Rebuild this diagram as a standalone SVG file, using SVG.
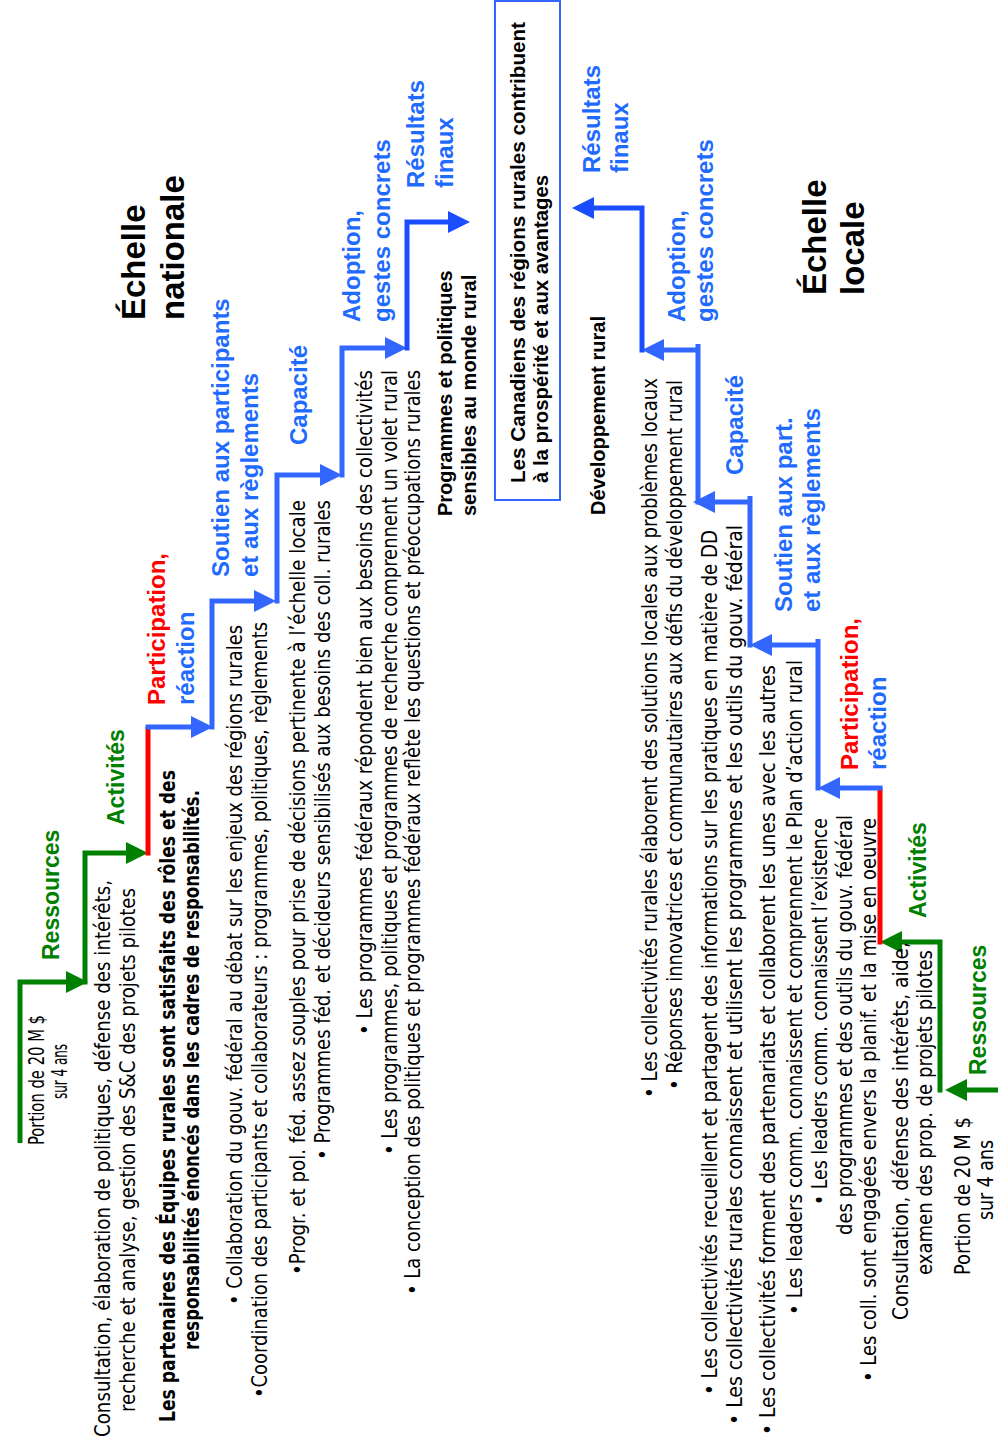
<svg xmlns="http://www.w3.org/2000/svg" width="998" height="1446" viewBox="0 0 998 1446">
<style>
.bd{font-family:"Liberation Sans Narrow","Arial Narrow","DejaVu Sans Condensed",sans-serif;font-size:21px;fill:#000}
.bb{font-family:"Liberation Sans Narrow","Arial Narrow","DejaVu Sans Condensed",sans-serif;font-size:21px;font-weight:bold;fill:#000}
.lb{font-family:"Liberation Sans",Arial,sans-serif;font-weight:bold;font-size:24px}
.gl{font-family:"Liberation Sans",Arial,sans-serif;font-weight:bold;font-size:23px;fill:#008000}
.bl{fill:#1f6bff}
.rd{fill:#ff0000}
.tt{font-family:"Liberation Sans",Arial,sans-serif;font-weight:bold;font-size:33px;fill:#000}
.bk{font-family:"Liberation Sans",Arial,sans-serif;font-weight:bold;font-size:20px;fill:#000}
.c{fill:none;stroke-width:5}
.cg{stroke:#008000}
.cb{stroke:#3366ff}
.cd{stroke:#1a4dff}
.cr{stroke:#ff0000}
.box{fill:#fff;stroke:#3366ff;stroke-width:2}
</style>
<defs>
<marker id="ag" viewBox="0 0 22 22" refX="12" refY="11" markerWidth="22" markerHeight="22" markerUnits="userSpaceOnUse" orient="auto"><path d="M0,0 L22,11 L0,22 z" fill="#008000"/></marker>
<marker id="ab" viewBox="0 0 22 22" refX="12" refY="11" markerWidth="22" markerHeight="22" markerUnits="userSpaceOnUse" orient="auto"><path d="M0,0 L22,11 L0,22 z" fill="#3366ff"/></marker>
<marker id="ad" viewBox="0 0 22 22" refX="12" refY="11" markerWidth="22" markerHeight="22" markerUnits="userSpaceOnUse" orient="auto"><path d="M0,0 L22,11 L0,22 z" fill="#1a4dff"/></marker>
</defs>

<g id="connectors">
<path class="c cg" d="M20,1143 V982 H78" marker-end="url(#ag)"/>
<path class="c cg" d="M85,984.5 V853 H138" marker-end="url(#ag)"/>
<path class="c cr" d="M148,855.5 V727"/>
<path class="c cb" d="M145.5,727 H203" marker-end="url(#ab)"/>
<path class="c cb" d="M212,729.5 V601 H266" marker-end="url(#ab)"/>
<path class="c cb" d="M277,603.5 V475 H332" marker-end="url(#ab)"/>
<path class="c cb" d="M342,477.5 V348 H397" marker-end="url(#ab)"/>
<path class="c cd" d="M407,350.5 V222 H460" marker-end="url(#ad)"/>

<path class="c cg" d="M998,1090 H955" marker-end="url(#ag)"/>
<path class="c cg" d="M940,1092.5 V942 H890" marker-end="url(#ag)"/>
<path class="c cr" d="M880,944.5 V788"/>
<path class="c cb" d="M882.5,788 H828" marker-end="url(#ab)"/>
<path class="c cb" d="M818,790.5 V639"/>
<path class="c cb" d="M818,645 H760" marker-end="url(#ab)"/>
<path class="c cb" d="M750,647.5 V496"/>
<path class="c cb" d="M750,502 H703" marker-end="url(#ab)"/>
<path class="c cb" d="M698,504.5 V344"/>
<path class="c cb" d="M698,350 H652" marker-end="url(#ab)"/>
<path class="c cd" d="M642,352.5 V208 H582" marker-end="url(#ad)"/>
</g>

<g id="box">
<rect class="box" x="495" y="1" width="65" height="499"/>
<text class="bk" transform="translate(525,483) rotate(-90)" textLength="461" lengthAdjust="spacingAndGlyphs">Les Canadiens des régions rurales contribuent</text>
<text class="bk" transform="translate(548,483) rotate(-90)" textLength="308" lengthAdjust="spacingAndGlyphs">à la prospérité et aux avantages</text>
</g>

<g id="national-title">
<text class="tt" transform="translate(145,320) rotate(-90)">Échelle</text>
<text class="tt" transform="translate(184,320) rotate(-90)">nationale</text>
</g>

<g id="nat-ressources">
<text class="bd" transform="translate(44,1145) rotate(-90)" textLength="130" lengthAdjust="spacingAndGlyphs">Portion de 20 M $</text>
<text class="bd" transform="translate(67,1099) rotate(-90)" textLength="55" lengthAdjust="spacingAndGlyphs">sur 4 ans</text>
<text class="gl" transform="translate(59,960) rotate(-90)">Ressources</text>
</g>

<g id="nat-activites">
<text class="bd" transform="translate(110,1437) rotate(-90)" textLength="557" lengthAdjust="spacingAndGlyphs">Consultation, élaboration de politiques, défense des intérêts,</text>
<text class="bd" transform="translate(135,1412) rotate(-90)" textLength="524" lengthAdjust="spacingAndGlyphs">recherche et analyse, gestion des S&amp;C des projets pilotes</text>
<text class="gl" transform="translate(124,825) rotate(-90)">Activités</text>
</g>

<g id="nat-participation">
<text class="bb" transform="translate(175,1422) rotate(-90)" textLength="652" lengthAdjust="spacingAndGlyphs">Les partenaires des Équipes rurales  sont satisfaits des rôles et des</text>
<text class="bb" transform="translate(199,1350) rotate(-90)" textLength="560" lengthAdjust="spacingAndGlyphs">responsabilités énoncés dans les cadres de responsabilités.</text>
<text class="lb rd" transform="translate(165,705) rotate(-90)">Participation,</text>
<text class="lb bl" transform="translate(194,705) rotate(-90)">réaction</text>
</g>

<g id="nat-soutien">
<text class="bd" transform="translate(242,1305) rotate(-90)" textLength="680" lengthAdjust="spacingAndGlyphs">• Collaboration du gouv. fédéral au débat sur les enjeux des régions rurales</text>
<text class="bd" transform="translate(267,1398) rotate(-90)" textLength="776" lengthAdjust="spacingAndGlyphs">•Coordination des participants et collaborateurs : programmes, politiques, règlements</text>
<text class="lb bl" transform="translate(229,577) rotate(-90)">Soutien aux participants</text>
<text class="lb bl" transform="translate(258,577) rotate(-90)">et aux règlements</text>
</g>

<g id="nat-capacite">
<text class="bd" transform="translate(305,1275) rotate(-90)" textLength="775" lengthAdjust="spacingAndGlyphs">•Progr. et pol. féd. assez souples pour prise de décisions pertinente à l’échelle locale</text>
<text class="bd" transform="translate(330,1160) rotate(-90)" textLength="660" lengthAdjust="spacingAndGlyphs">• Programmes féd. et décideurs sensibilisés aux besoins des coll. rurales</text>
<text class="lb bl" transform="translate(307,445) rotate(-90)">Capacité</text>
</g>

<g id="nat-adoption">
<text class="bd" transform="translate(372,1035) rotate(-90)" textLength="665" lengthAdjust="spacingAndGlyphs">• Les programmes fédéraux répondent bien aux besoins des collectivités</text>
<text class="bd" transform="translate(397,1155) rotate(-90)" textLength="785" lengthAdjust="spacingAndGlyphs">• Les programmes, politiques et programmes de recherche comprennent un volet rural</text>
<text class="bd" transform="translate(420,1295) rotate(-90)" textLength="925" lengthAdjust="spacingAndGlyphs">• La conception des politiques et programmes fédéraux reflète les questions et préoccupations rurales</text>
<text class="lb bl" transform="translate(360,322) rotate(-90)">Adoption,</text>
<text class="lb bl" transform="translate(390,322) rotate(-90)">gestes concrets</text>
</g>

<g id="nat-resultats">
<text class="bk" transform="translate(452,516) rotate(-90)">Programmes et politiques</text>
<text class="bk" transform="translate(476,516) rotate(-90)">sensibles au monde rural</text>
<text class="lb bl" transform="translate(424,188) rotate(-90)">Résultats</text>
<text class="lb bl" transform="translate(453,188) rotate(-90)">finaux</text>
</g>

<g id="local-title">
<text class="tt" transform="translate(826,295) rotate(-90)">Échelle</text>
<text class="tt" transform="translate(864,295) rotate(-90)">locale</text>
</g>

<g id="loc-resultats">
<text class="bk" transform="translate(605,515) rotate(-90)">Développement rural</text>
<text class="lb bl" transform="translate(600,173) rotate(-90)">Résultats</text>
<text class="lb bl" transform="translate(628,173) rotate(-90)">finaux</text>
</g>

<g id="loc-adoption">
<text class="bd" transform="translate(657,1098) rotate(-90)" textLength="720" lengthAdjust="spacingAndGlyphs">• Les collectivités rurales élaborent des solutions locales aux problèmes locaux</text>
<text class="bd" transform="translate(682,1090) rotate(-90)" textLength="710" lengthAdjust="spacingAndGlyphs">• Réponses innovatrices et communautaires aux défis du développement rural</text>
<text class="lb bl" transform="translate(685,322) rotate(-90)">Adoption,</text>
<text class="lb bl" transform="translate(713,322) rotate(-90)">gestes concrets</text>
</g>

<g id="loc-capacite">
<text class="bd" transform="translate(717,1395) rotate(-90)" textLength="865" lengthAdjust="spacingAndGlyphs">• Les collectivités recueillent et partagent des informations sur les pratiques en matière de DD</text>
<text class="bd" transform="translate(742,1425) rotate(-90)" textLength="900" lengthAdjust="spacingAndGlyphs">• Les collectivités rurales connaissent et utilisent les programmes et les outils du gouv. fédéral</text>
<text class="lb bl" transform="translate(743,475) rotate(-90)">Capacité</text>
</g>

<g id="loc-soutien">
<text class="bd" transform="translate(775,1435) rotate(-90)" textLength="770" lengthAdjust="spacingAndGlyphs">• Les collectivités forment des partenariats et collaborent les unes avec les autres</text>
<text class="bd" transform="translate(802,1315) rotate(-90)" textLength="655" lengthAdjust="spacingAndGlyphs">• Les leaders comm. connaissent et comprennent le Plan d’action rural</text>
<text class="lb bl" transform="translate(792,612) rotate(-90)">Soutien aux part.</text>
<text class="lb bl" transform="translate(820,612) rotate(-90)">et aux règlements</text>
</g>

<g id="loc-participation">
<text class="bd" transform="translate(827,1205) rotate(-90)" textLength="387" lengthAdjust="spacingAndGlyphs">• Les leaders comm. connaissent l’existence</text>
<text class="bd" transform="translate(852,1235) rotate(-90)" textLength="420" lengthAdjust="spacingAndGlyphs">des programmes et des outils du gouv. fédéral</text>
<text class="bd" transform="translate(876,1382) rotate(-90)" textLength="564" lengthAdjust="spacingAndGlyphs">• Les coll. sont engagées envers la planif. et la mise en oeuvre</text>
<text class="lb rd" transform="translate(858,770) rotate(-90)">Participation,</text>
<text class="lb bl" transform="translate(886,770) rotate(-90)">réaction</text>
</g>

<g id="loc-activites">
<text class="bd" transform="translate(908,1320) rotate(-90)" textLength="378" lengthAdjust="spacingAndGlyphs">Consultation, défense des intérêts, aide,</text>
<text class="bd" transform="translate(932,1275) rotate(-90)" textLength="325" lengthAdjust="spacingAndGlyphs">examen des prop. de projets pilotes</text>
<text class="gl" transform="translate(926,918) rotate(-90)">Activités</text>
</g>

<g id="loc-ressources">
<text class="bd" transform="translate(970,1275) rotate(-90)" textLength="158" lengthAdjust="spacingAndGlyphs">Portion de 20 M $</text>
<text class="bd" transform="translate(993,1220) rotate(-90)" textLength="80" lengthAdjust="spacingAndGlyphs">sur 4 ans</text>
<text class="gl" transform="translate(986,1075) rotate(-90)">Ressources</text>
</g>
</svg>
